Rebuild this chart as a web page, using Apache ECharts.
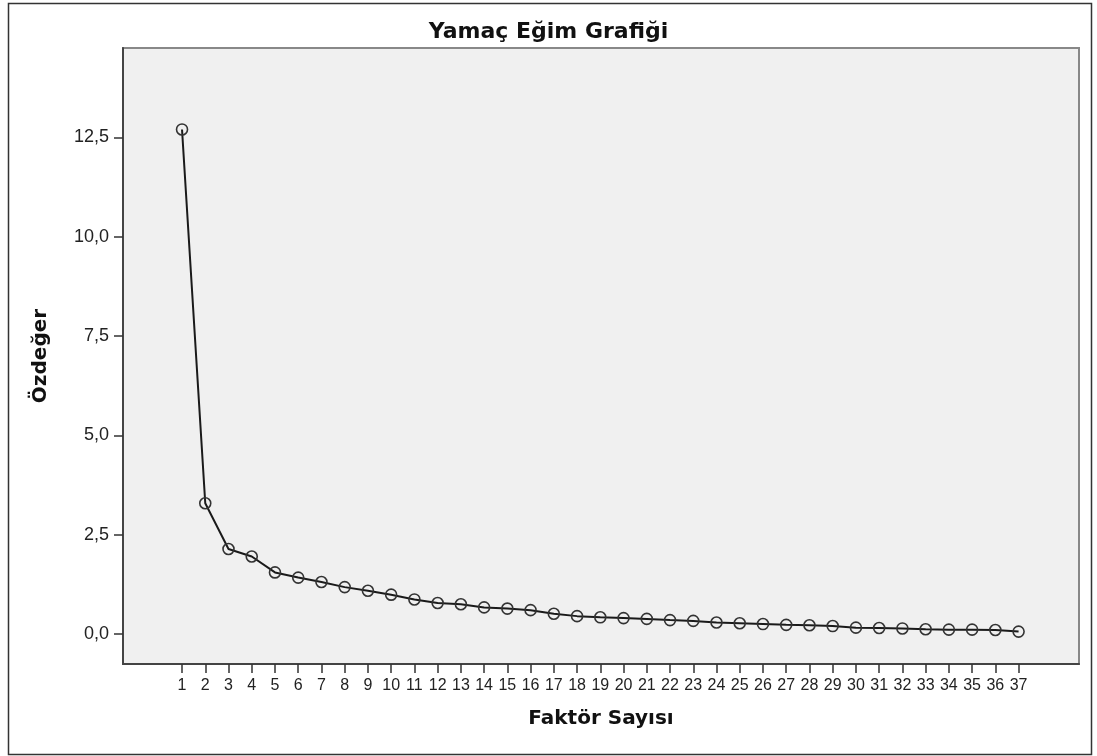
<!DOCTYPE html>
<html>
<head>
<meta charset="utf-8">
<script src="https://cdn.jsdelivr.net/npm/echarts@6/dist/echarts.min.js"></script>
<style>
  html, body { margin: 0; padding: 0; background: #fff; }
  #chart { width: 1097px; height: 756px; }
</style>
</head>
<body>
<div id="chart"></div>
<script>
const factors = [1, 2, 3, 4, 5, 6, 7, 8, 9, 10, 11, 12, 13, 14, 15, 16, 17, 18, 19,
  20, 21, 22, 23, 24, 25, 26, 27, 28, 29, 30, 31, 32, 33, 34, 35, 36, 37];
const eigenvalues = [12.70, 3.29, 2.14, 1.95, 1.55, 1.42, 1.31, 1.18, 1.09, 0.99,
  0.87, 0.78, 0.75, 0.67, 0.64, 0.60, 0.51, 0.45, 0.42, 0.40,
  0.38, 0.35, 0.33, 0.29, 0.27, 0.25, 0.23, 0.22, 0.20, 0.16,
  0.15, 0.14, 0.12, 0.11, 0.11, 0.10, 0.06];
const yTicks = [0, 2.5, 5, 7.5, 10, 12.5];

const chart = echarts.init(document.getElementById("chart"));

const option = {
  animation: false,
  backgroundColor: "#fff",
  title: {
    text: "Yamaç Eğim Grafiği",
    left: "center",
    top: 16,
    textStyle: {
      fontFamily: "DejaVu Sans",
      fontWeight: "bold",
      fontSize: 22,
      color: "#111",
    },
  },
  graphic: [
    {
      type: "rect",
      left: 6,
      top: 1,
      shape: { width: 1083, height: 751 },
      style: { fill: "none", stroke: "#333", lineWidth: 1.5 },
      silent: true,
    },
  ],
  grid: {
    left: 123,
    top: 48,
    right: 18,
    bottom: 92,
    show: true,
    backgroundColor: "#f0f0f0",
    borderColor: "#888",
    borderWidth: 2,
  },
  xAxis: {
    type: "value",
    min: -1.54,
    max: 39.6,
    name: "Faktör Sayısı",
    nameLocation: "middle",
    nameGap: 45,
    nameTextStyle: {
      fontFamily: "DejaVu Sans",
      fontWeight: "bold",
      fontSize: 20,
      color: "#111",
    },
    splitLine: { show: false },
    axisLine: { show: true, onZero: false, lineStyle: { color: "#444", width: 2 } },
    axisTick: {
      show: true,
      customValues: factors,
      length: 9,
      lineStyle: { color: "#333", width: 1.5 },
    },
    axisLabel: {
      customValues: factors,
      margin: 14,
      fontFamily: "Liberation Sans, Arial",
      fontSize: 16,
      color: "#222",
    },
  },
  yAxis: {
    type: "value",
    min: -0.755,
    max: 14.75,
    name: "Özdeğer",
    nameLocation: "middle",
    nameGap: 72,
    nameTextStyle: {
      fontFamily: "DejaVu Sans",
      fontWeight: "bold",
      fontSize: 20,
      color: "#111",
    },
    splitLine: { show: false },
    axisLine: { show: true, onZero: false, lineStyle: { color: "#444", width: 2 } },
    axisTick: {
      show: true,
      customValues: yTicks,
      length: 9,
      lineStyle: { color: "#333", width: 1.5 },
    },
    axisLabel: {
      customValues: yTicks,
      margin: 14,
      fontFamily: "Liberation Sans, Arial",
      fontSize: 18,
      color: "#222",
      formatter: (v) => v.toFixed(1).replace(".", ","),
    },
  },
  series: [
    {
      type: "line",
      data: factors.map((f, i) => [f, eigenvalues[i]]),
      symbol: "circle",
      symbolSize: 11,
      showAllSymbol: true,
      lineStyle: { color: "#1a1a1a", width: 2 },
      itemStyle: { color: "transparent", borderColor: "#333", borderWidth: 1.6 },
    },
  ],
};

chart.setOption(option);
</script>
</body>
</html>
